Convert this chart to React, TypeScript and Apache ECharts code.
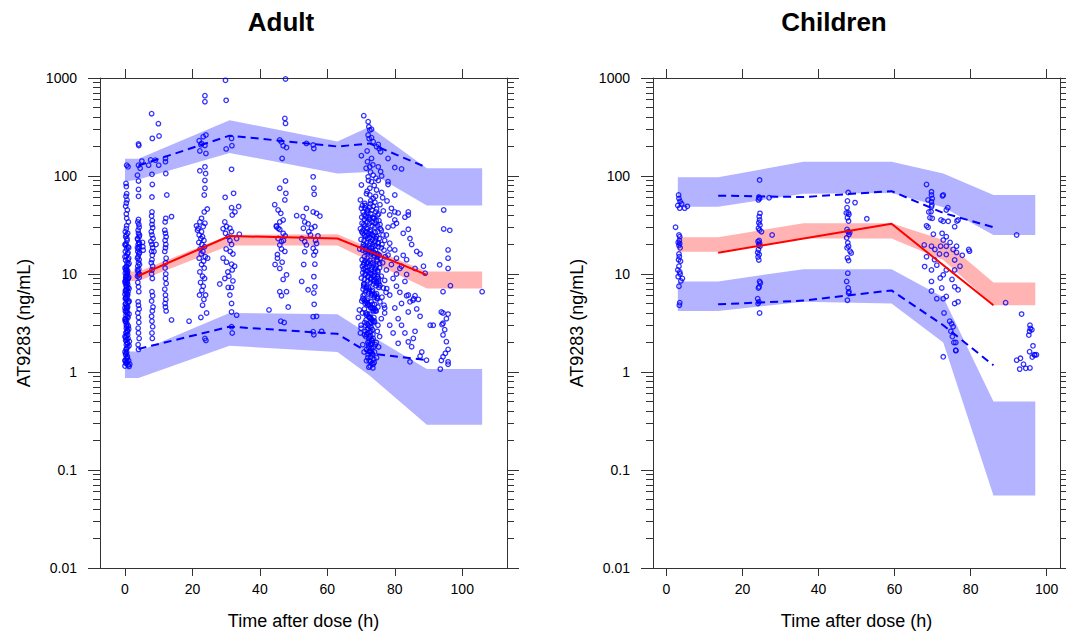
import React, { useEffect, useRef } from 'react';
import * as echarts from 'echarts';

// ---------- tick labels ----------
const xTickValues = [0, 20, 40, 60, 80, 100];
const yMajorTicks = [0.01, 0.1, 1, 10, 100, 1000];
const yTickLabels = ['0.01', '0.1', '1', '10', '100', '1000'];
const yMinorTicks = [
  0.02, 0.03, 0.04, 0.05, 0.06, 0.07, 0.08, 0.09,
  0.2, 0.3, 0.4, 0.5, 0.6, 0.7, 0.8, 0.9,
  2, 3, 4, 5, 6, 7, 8, 9,
  20, 30, 40, 50, 60, 70, 80, 90,
  200, 300, 400, 500, 600, 700, 800, 900,
];
const panelTitles = ['Adult', 'Children'];
const xAxisTitle = 'Time after dose (h)';
const yAxisTitle = 'AT9283 (ng/mL)';

// ---------- Adult prediction intervals ----------
const adultBandT = [0, 4, 31, 63, 72.5, 89.5, 105.9];
const adultUpperHi = [150, 150, 370, 225, 318, 120, 120];
const adultUpperLo = [88, 92, 172, 106, 110, 50, 50];
const adultMedHi = [10.6, 10.6, 25, 25.4, 18.5, 10.6, 10.6];
const adultMedLo = [8.5, 8.5, 19.5, 19.5, 13.6, 7.1, 7.1];
const adultLowHi = [1.62, 1.62, 4.0, 3.88, 2.4, 1.07, 1.07];
const adultLowLo = [0.87, 0.87, 1.85, 1.6, 0.92, 0.29, 0.29];

// Adult observed percentiles
const adultLineT = [4, 31, 63, 72.5, 89.5];
const adultMedian = [9.6, 24.4, 23, 17, 9.8];
const adultP95 = [128, 258, 200, 215, 122];
const adultP5 = [1.72, 2.9, 2.45, 1.55, 1.32];

// ---------- Children prediction intervals ----------
const childBandT = [3, 13.6, 36, 59.2, 72.8, 86, 97];
const childUpperHi = [97, 97, 140, 140, 106, 64, 64];
const childUpperLo = [48.6, 48.6, 66, 67, 48, 25, 25];
const childMedHi = [23.7, 23.7, 33, 33, 22.2, 8.2, 8.2];
const childMedLo = [16.9, 16.9, 23, 23, 13.9, 4.8, 4.8];
const childLowHi = [8.4, 8.4, 11.2, 11.2, 5.8, 0.5, 0.5];
const childLowLo = [4.2, 4.2, 5.2, 5.0, 2.0, 0.055, 0.055];

// Children observed percentiles
const childMedianT = [13.6, 59.2, 86];
const childMedian = [16.5, 32.5, 4.8];
const childPctT = [13.6, 36, 59.2, 72.8, 86];
const childP95 = [63, 61, 70, 42, 30];
const childP5 = [4.9, 5.35, 6.8, 3.0, 1.17];

// ---------- Observations ----------
const adultObs: number[][] = [
  // ~0 h
  [0.5,129],[0.9,124],[0.3,84],[0.4,78],[0.5,66],[0.3,62],[0.6,57],[0.4,53],[0.2,49],[0.7,45],[0.4,41],[0.5,37],[1.0,34],[0.5,31],[0.1,27],
  [0.4,29],[0.8,26],[0.2,24],[0.6,22],[0.3,20.5],[0.9,19],[0.5,18],[0.1,17],[0.7,16],[0.4,15.2],[1.1,14.5],[0.2,13.8],[0.6,13],[0.9,12.4],[0.3,11.8],
  [0.5,11.2],[0.8,10.7],[0.1,10.2],[0.6,9.8],[0.4,9.4],[1.0,9.0],[0.2,8.6],[0.7,8.3],[0.5,8.0],[0.3,7.6],[0.9,7.3],[0.6,7.0],[0.1,6.7],[0.4,6.4],[0.8,6.1],
  [0.3,5.8],[0.6,5.5],[1.2,5.3],[0.2,5.0],[0.5,4.8],[0.8,4.6],[0.4,4.4],[0.1,4.2],[0.7,4.0],[0.3,3.8],[0.9,3.6],[0.5,3.4],[0.2,3.25],[0.6,3.1],[1.0,2.95],
  [0.4,2.8],[0.7,2.65],[0.3,2.5],[0.5,2.35],[0.9,2.2],[0.2,2.1],[0.6,2.0],[0.4,1.9],[0.8,1.8],[0.3,1.7],[0.5,1.6],[0.2,1.5],[0.7,1.45],[0.4,1.38],[0.1,1.32],
  [0.6,1.27],[0.3,1.22],[0.9,1.18],[1.2,1.14],[0.5,12],[0.2,9.2],[0.8,7.8],[0.3,6.9],[0.6,5.9],[0.1,4.9],[0.9,14],[0.6,4.2],[0.2,3.5],[0.8,2.6],[0.5,2.15],
  [0.0,1.3],[0.4,1.25],[1.4,1.2],[0.7,10.2],[0.3,8.8],[0.9,6.6],[0.1,5.6],[0.6,4.5],[0.4,3.0],[0.8,2.4],
  [0.2,11],[0.6,10.4],[0.4,9.6],[0.8,8.9],[0.1,8.1],[0.5,7.4],[0.3,6.8],[0.7,6.3],[0.2,5.7],[0.9,5.1],[0.5,4.6],[0.3,4.1],[0.7,3.7],[0.1,3.3],[0.6,2.9],
  [0.4,2.55],[0.2,2.25],[0.8,1.95],[0.5,1.75],[0.3,1.55],[0.7,1.4],[0.9,16.5],[0.2,19.5],[0.6,23],[0.4,25],
  [0.0,20],[1.1,18.5],[0.0,15],[1.2,12.8],[0.0,11.5],[1.1,9.3],[0.0,8.4],[1.2,7.1],[0.0,6.2],[1.1,5.2],[0.0,4.5],[1.2,3.9],[0.0,3.45],[1.1,2.75],[0.0,2.3],
  [1.2,1.85],[0.0,1.6],[1.1,1.3],[0.0,1.15],[1.3,2.05],
  // ~4 h
  [4.0,212],[4.1,205],[4.0,129],[3.7,102],[4.0,89],[4.0,73],[4.0,62],[4.0,36],[4.1,32],[3.8,34],[4.2,30],[3.9,28],[4.0,26],[4.2,24],[3.8,22.5],
  [4.1,21],[3.9,20],[4.2,19],[4.0,18],[3.8,17],[4.1,16],[3.9,15],[4.2,14],[4.0,13],[3.8,12],[4.1,11.2],[3.9,10.5],[4.0,9.8],[4.2,9.2],[3.8,8.2],
  [4.0,7.4],[4.1,6.6],[3.9,5.2],[4.0,4.8],[4.2,4.4],[3.8,4.0],[4.0,3.6],[4.1,3.2],[3.9,2.8],[4.0,2.5],[4.2,2.2],[3.9,1.9],[4.0,1.7],[5.0,142],[4.5,120],
  [5.2,21],[5.3,19],[5.4,17.5],[4.3,25],[3.7,23],[4.3,20.5],[3.7,18.5],[4.3,16.5],[3.7,14.5],[4.3,12.5],[3.7,11],[4.3,10],[3.7,9.5],
  // ~8 h
  [7.9,432],[8.1,242],[7.0,129],[7.6,146],[8.0,104],[8.1,82],[8.0,61],[8.0,43],[7.9,39],[8.1,35],[8.0,32],[8.2,29.7],[7.8,27],[8.0,25],[8.3,23],
  [7.7,21.5],[8.0,20],[8.2,18.5],[7.9,17],[8.1,15.5],[8.0,14],[7.8,13],[8.2,12],[8.0,11],[7.9,10],[8.1,9],[8.0,6.6],[8.2,6.0],[7.9,5.3],[8.3,4.6],
  [8.1,4.2],[7.9,3.7],[8.0,3.3],[8.2,2.9],[8.0,2.5],[8.1,2.2],[9.0,145],[9.2,20],[8.6,17],
  // ~12 h
  [9.9,342],[10.1,256],[10.0,129],[12.0,151],[12.1,106],[12.0,140],[12.4,64],[11.9,34],[12.1,37],[11.8,28],[12.0,26],[12.2,24],[11.9,22],[12.1,20],[12.0,18.5],
  [11.8,17],[12.2,14.5],[12.0,13],[11.9,11.5],[12.1,10],[12.0,9],[12.2,8],[11.8,7],[12.0,6.1],[12.1,5.5],[11.9,5.0],[12.0,4.6],[12.2,4.2],[13.8,38.5],[13.8,3.4],
  [19.0,3.3],
  // ~23 h
  [23.7,660],[23.7,573],[23.2,252],[24.0,262],[22.0,229],[22.7,215],[22.5,208],[23.7,205],[22.2,180],[24.0,170],[23.7,124],[22.2,113],[23.9,106],[23.7,90],[23.7,75],
  [23.5,64],[24.4,46],[23.5,43],[22.7,37],[22.2,34],[23.7,33],[23.2,30.5],[21.7,29.3],[21.2,31],[21.5,28],[22.7,27],[22.0,25],[23.0,24],[22.5,23],[23.4,22],
  [21.9,21],[22.8,20],[23.6,19],[22.3,18],[23.1,17],[22.6,16],[23.8,15],[22.0,14.5],[23.3,13.5],[22.7,12.5],[23.5,11.5],[22.2,10.5],[23.0,9.5],[23.6,9.0],[22.4,8.2],
  [23.2,7.5],[22.8,6.8],[23.9,6.1],[22.1,6.1],[23.4,5.5],[24.2,4.0],[23.0,4.8],[23.7,2.2],[24.0,2.1],[24.5,14.5],[22.5,3.6],
  // ~31 h
  [29.8,946],[30.0,592],[31.6,242],[31.7,204],[30.0,189],[31.6,117],[32.2,66.5],[29.7,60.6],[31.6,47.5],[33.7,48.8],[32.6,43],[31.8,40],[29.6,34],[30.1,30.5],[31.1,29.3],
  [31.6,27],[29.1,29],[29.8,26],[30.6,24],[31.1,22],[33.1,23],[33.9,25.5],[31.6,20],[30.0,18],[31.2,17],[32.0,16],[29.1,14.5],[30.1,13.2],[31.6,12.6],[32.5,12],
  [29.6,9],[30.5,10.5],[31.8,11],[28.1,7.9],[30.6,7.3],[31.6,7.3],[31.1,6.1],[31.6,5.0],[31.6,4.1],[33.1,3.8],[31.6,2.9],[31.8,2.5],[32.0,8.5],[30.8,9.5],
  // ~47 h
  [47.6,977],[47.4,387],[47.6,344],[45.9,233],[46.4,222],[46.9,204],[47.9,195],[46.6,151],[47.6,89],[45.9,75],[47.7,66.5],[47.4,57],[44.4,51],[45.4,45],[46.2,41.6],
  [46.9,35.6],[45.9,34],[44.9,30.4],[45.4,29.3],[44.9,31],[45.9,28.5],[46.9,26],[47.5,24.5],[45.4,23],[46.4,21.5],[45.9,19.8],[46.4,18],[47.4,17],[45.2,15.8],[45.2,14.5],
  [46.6,13.2],[45.9,11.4],[47.9,9.8],[46.9,8.8],[47.9,6.6],[45.9,6.6],[46.4,6.0],[48.4,4.6],[42.7,4.3],[46.2,3.3],[47.2,3.2],[44.5,12.5],[47.0,22],
  // ~55 h
  [53.8,215],[55.8,207],[56.0,191],[55.8,98],[56.0,75],[56.1,65],[53.8,46.8],[50.9,39.4],[52.8,38.5],[55.8,43],[56.8,41.6],[57.8,39],[53.3,34],[54.3,32.5],[55.3,29.3],
  [56.3,30.5],[52.9,29.3],[53.3,21.4],[52.4,23],[53.8,19.8],[55.8,18.3],[53.3,16.9],[56.0,15.6],[56.3,12.6],[56.0,9.4],[52.4,8.4],[56.3,7.4],[54.3,6.9],[56.0,6.4],[56.1,4.9],
  [55.8,3.67],[56.8,3.7],[55.8,2.58],[58.3,2.6],[56.0,2.4],[55.0,25],[56.5,22],[54.5,27],[53.0,12.5],[56.8,20.5],[57.2,24.5],[56.5,17],
  // ~72 h (dense)
  [70.8,413],[72.1,358],[72.3,318],[72.6,294],[73.1,300],[72.1,262],[73.1,246],[72.4,240],[73.6,224],[74.6,199],[75.4,190],[75.8,177],[75.1,210],[70.1,161],[71.8,180],
  [73.1,151],[71.9,140],[72.6,124],[75.1,124],[75.8,111],[78.0,151],[73.6,102],[72.1,98],[74.4,95],[76.1,100],[73.1,87.5],[75.1,90],[78.0,87.5],[78.0,82],[70.1,81],
  [72.6,75],[74.6,72],[76.1,68],[72.6,64],[71.6,66],[73.6,59],[76.4,60],[80.0,122],[82.0,118],[80.0,64],[69.8,57],[71.1,52.6],[74.1,54],[75.6,51],[77.7,55.6],
  [70.1,46.8],[72.6,48],[74.6,46],[76.6,44],[79.0,46.8],[80.0,43],[78.5,40],[84.0,43],[84.0,40],[80.0,35.6],[80.5,32.9],[84.0,28.6],
  [70.2,38],[71.0,36],[71.8,34],[72.5,33],[73.3,31],[74.1,30],[69.8,29],[70.6,28],[71.4,27],[72.2,26],[73.0,25.5],[73.8,24.5],[74.6,24],[75.4,23],[70.0,22.5],
  [70.9,22],[71.7,21],[72.6,20.5],[73.4,20],[74.2,19.5],[75.1,19],[76.0,18.5],[69.6,18],[70.5,17.5],[71.3,17],[72.1,16.5],[73.0,16],[73.9,15.5],[74.8,15],[75.7,14.5],
  [70.3,14],[71.2,13.6],[72.0,13.2],[72.9,12.8],[73.7,12.4],[74.5,12],[75.5,11.6],[70.7,11.2],[71.5,10.8],[72.4,10.4],[73.2,10],[74.0,9.7],[74.9,9.4],[70.1,9.1],[71.0,8.8],
  [71.9,8.5],[72.7,8.2],[73.6,7.9],[74.4,7.6],[75.3,7.3],[70.6,7.0],[71.4,6.7],[72.3,6.4],[73.1,6.1],[73.9,5.8],[74.8,5.6],[70.2,5.3],[71.2,5.0],[72.0,4.8],[72.8,4.6],
  [73.6,4.4],[74.5,4.2],[70.4,4.0],[71.6,3.8],[72.4,3.6],[73.3,3.4],[71.1,3.2],[72.2,3.0],[73.0,2.85],[71.8,2.7],[72.6,2.55],[73.5,2.4],[71.4,2.3],[72.3,2.2],[73.1,2.1],
  [72.0,2.0],[72.8,1.9],[73.7,1.8],[71.6,1.7],[72.5,1.6],[73.3,1.55],[72.1,1.5],[72.9,1.42],[73.8,1.35],[72.4,1.3],[73.2,1.22],[72.7,1.15],[73.5,1.1],
  [70.5,26],[71.3,24],[72.0,23],[72.8,21.5],[73.5,19],[74.3,17.5],[75.0,16],[71.0,15],[71.8,14.5],[72.6,13.8],[73.4,13],[74.2,11.5],[75.0,10.5],[71.2,10],[72.0,9.3],
  [72.9,8.8],[73.8,8.4],[74.7,8],[75.6,7.6],[71.0,6.2],[72.0,5.6],[73.0,5.2],[74.0,4.9],[75.0,4.6],[76.0,28],[76.5,25],[77.0,22],[76.2,20],[76.8,17.5],[77.2,15],
  [76.4,13],[77.5,11],[76.0,9.5],[77.0,8.6],[76.6,7.2],[77.4,6.5],[76.2,5.8],[75.6,5.2],[76.8,4.8],[77.0,4.0],[74.0,3.3],[75.0,3.0],[76.0,3.5],[74.8,2.6],[75.5,2.3],
  [74.5,2.0],[75.2,1.8],[74.0,1.6],[74.6,1.4],[73.9,1.25],[70.0,3.0],[69.8,2.5],[70.5,1.9],[71.0,2.4],[73.4,38],[74.5,35],[75.6,32],[75.0,27],[74.2,26.5],[70.8,32],
  [71.5,29.5],[72.8,28],[69.5,4.3],[69.2,3.6],[70.0,2.8],[71.7,44],[72.9,41],[73.9,37],[71.2,19.5],[72.4,18],[73.6,17],[74.8,13.5],[70.8,12.5],[71.8,11.8],[73.0,11],
  [74.1,10.5],[75.2,9.0],[70.9,8.0],[72.2,7.3],[73.4,6.8],[74.6,6.3],[70.6,6.0],[71.7,5.4],[73.4,4.9],[74.1,4.4],[71.0,4.4],[72.6,3.9],[73.8,3.6],[71.5,3.4],[72.9,3.2],
  [70.3,33],[71.1,31],[71.9,29],[72.7,27],[73.5,25],[74.3,23],[75.1,21],[70.7,20],[71.5,18.5],[72.3,17.5],[73.1,16.5],[73.9,15],[74.7,14],[75.5,12.8],[70.4,12],
  [71.2,11.5],[72.0,10.8],[72.8,10.2],[73.6,9.5],[74.4,9.0],[75.2,8.4],[70.8,7.8],[71.6,7.4],[72.4,7.0],[73.2,6.6],[74.0,6.2],[74.8,5.9],[70.5,5.6],[71.3,5.2],[72.1,4.9],
  [72.9,4.5],[73.7,4.2],[71.9,3.9],[72.7,3.6],[73.5,3.3],[71.3,3.0],[72.1,2.8],[72.9,2.6],[71.7,2.4],[72.5,2.3],[73.3,2.1],[72.2,1.9],[73.0,1.75],[72.6,1.65],[73.4,1.5],
  [72.0,1.4],[72.8,1.28],[73.6,1.2],[72.3,1.12],[71.5,120],[72.8,110],[73.5,130],[72.2,90],[73.9,80],[71.8,70],[74.3,62],[72.9,56],[71.3,50],[73.2,45],[74.9,40],
  [72.0,42],[73.7,37],[75.3,35],[72.4,38],[71.4,39],[70.6,43],
  [70.4,50],[71.2,47],[72.0,45],[72.8,52],[73.6,49],[74.4,43],[75.2,41],[70.9,40],[71.7,37.5],[72.5,36],[73.3,34],[74.1,33],[74.9,31],[75.7,29],[70.2,27],
  [71.0,25],[71.8,24.5],[72.6,23.5],[73.4,22.5],[74.2,21.5],[75.0,20.5],[70.6,19],[71.4,18],[72.2,17],[73.0,18.5],[73.8,16.5],[74.6,16],[75.4,15.5],[70.9,13],[71.7,12.8],
  [72.5,12.2],[73.3,11.7],[74.1,11.2],[74.9,10.8],[70.5,10.3],[71.3,9.8],[72.1,9.5],[72.9,9.1],[73.7,8.7],[74.5,8.3],[75.3,7.9],[70.8,7.5],[71.6,7.1],[72.4,6.7],[73.2,6.3],
  [74.0,6.0],[74.8,5.7],[71.0,5.4],[71.8,5.1],[72.6,4.8],[73.4,4.5],[74.2,4.2],[71.4,4.0],[72.2,3.7],[73.0,3.5],[73.8,3.2],[71.8,3.1],[72.6,2.9],[73.4,2.7],[72.0,2.5],
  [72.8,2.35],[73.6,2.2],[72.4,2.05],[73.2,1.95],[73.0,1.6],[72.2,1.78],[71.6,1.3],[70.9,1.6],[74.2,1.9],[71.2,2.6],
  // ~78-90 h
  [77.5,25],[78.5,20.6],[80.0,17.6],[81.5,11.4],[83.0,8.4],[84.0,6.1],[84.5,5.2],[84.0,4.1],[78.5,3.0],[79.5,2.5],[81.0,1.96],[84.0,2.03],[85.0,1.81],[84.5,1.27],[89.4,1.32],
  [91.4,3.0],[85.4,5.4],[83.5,6.0],[85.6,5.6],[80.5,14.5],[82.5,15.5],[83.5,9.9],[86.0,11.4],[89.0,10.2],[78.5,18],[78.0,15.6],[77.6,7.1],[78.5,6.1],[77.0,4.5],[79.5,9],
  [80.5,7.5],[81.5,6.5],[82.0,5.0],[80.0,4.5],[81.0,3.5],[82.0,3.0],[83.0,2.5],[79.0,12.5],[80.5,10],[82.0,12],[83.5,14],[85.0,20],[84.5,23],[86.5,17],[87.5,16],
  [88.5,12],[86.0,6.0],[87.0,5.5],[86.5,4.4],[87.5,3.7],[86.0,2.6],[85.5,2.2],[88.0,1.6],[87.5,1.45],[83.0,38],[81.0,42],[79.5,31],[82.5,26],[78.0,30],
  // ~95 h
  [94.5,45],[94.5,28.8],[96.3,27.9],[93.3,12.4],[95.8,11.4],[95.8,17.6],[95.8,14.5],[96.5,7.6],[94.3,6.6],[93.8,4.1],[94.3,4.0],[95.8,3.9],[95.3,3.5],[94.3,3.14],[94.0,3.05],
  [94.3,2.39],[95.3,2.04],[95.8,1.7],[94.3,1.43],[93.8,1.31],[95.8,1.27],[95.8,1.2],[93.5,1.07],[94.8,2.7],[95.0,1.55],[105.9,6.6],[90.5,3.0],
];

const childObs: number[][] = [
  // ~3 h
  [3.2,64],[3.3,59],[3.6,55],[3.0,50],[4.0,52],[4.8,47],[3.5,47],[5.5,49],[2.4,30],[3.3,25],[3.5,24],[3.4,22],[3.1,21],[3.3,19.5],[3.6,18.5],
  [3.4,15],[3.2,14],[3.7,13.5],[3.3,12],[3.0,11],[3.5,10.5],[3.6,10],[3.1,9.4],[4.2,9],[3.8,8.5],[3.3,7.5],[3.5,5.1],[3.4,4.8],[3.3,16],[3.5,20.5],
  // ~24 h
  [24.5,91],[24.3,61],[24.5,59],[24.2,57],[27.0,60],[24.6,41.6],[24.4,38.5],[24.5,35.6],[24.3,33.4],[24.6,31.6],[24.2,29.3],[24.5,28.1],[25.0,27],[27.8,25],[24.4,22],
  [24.1,21.4],[24.5,20.6],[24.3,19.8],[24.6,19.2],[24.2,17.8],[24.0,16.6],[24.4,15.8],[24.1,14.9],[24.3,13.9],[24.5,8.4],[24.7,8.1],[24.4,7.4],[24.2,7.2],[24.0,5.6],[24.3,5.2],
  [24.1,5.0],[24.5,4.0],
  // ~48 h
  [47.8,67.8],[47.6,55.7],[49.6,53.5],[47.5,47.5],[47.8,42.2],[48.0,40.6],[47.6,37.5],[47.9,34.7],[52.7,36.6],[47.5,28.5],[47.8,27],[48.0,25.3],[47.4,23.4],[47.7,20.8],[47.9,19.2],
  [47.5,18.5],[48.3,17.1],[48.6,16.4],[47.6,14.6],[47.9,13.7],[47.7,10.2],[47.4,8.4],[47.8,7.2],[48.0,6.6],[47.9,6.4],[47.6,5.4],[48.2,26.5],[47.3,42],
  // ~72 h
  [68.4,82],[69.7,69],[69.7,64],[69.9,59],[69.7,54.7],[69.8,50.6],[69.7,48.6],[69.6,43.3],[69.9,37],[68.8,57],[69.0,43],[69.3,37.5],[72.8,64],[72.6,62.7],[73.6,45],
  [74.0,47.5],[72.2,35.6],[72.8,34.5],[74.1,34.5],[76.7,35.6],[75.8,30.4],[76.4,34.7],[68.4,31],[68.8,30],[72.5,26],[73.6,24],[72.8,22.2],[67.8,19.8],[69.7,19.2],[70.6,17.8],
  [72.1,19.2],[73.6,19.2],[76.3,19.2],[75.4,17.8],[79.5,17.8],[79.7,17.1],[76.3,16.6],[73.6,15.8],[68.4,15],[75.8,13.9],[67.9,11.9],[71.1,12.3],[69.7,11],[73.6,11],[75.8,11],
  [72.8,9.8],[72.0,9.1],[75.1,8.8],[69.7,8.4],[75.8,7.4],[72.4,7.2],[76.7,6.9],[69.7,6.7],[71.1,5.6],[72.8,5.6],[73.6,5.9],[75.8,5.0],[76.7,5.2],[73.0,4.0],[75.0,3.1],
  [75.4,2.9],[74.8,2.6],[75.2,2.3],[75.6,2.0],[76.1,1.67],[72.8,1.43],[76.1,2.0],[76.1,1.65],[74.5,3.3],[70.5,14],[71.8,16],[74.6,21],[77.2,12],[77.8,15.5],[70.2,25.5],
  // ~90-97 h
  [89.2,5.1],[92.1,25],[93.4,3.9],[95.6,3.0],[95.5,2.6],[96.4,1.85],[96.9,1.49],[92.1,1.32],[92.9,1.07],[93.1,1.38],[93.9,1.2],[94.5,1.09],[95.6,1.1],[95.5,1.61],[95.7,2.78],
  [96.1,2.7],[95.3,2.38],[96.7,1.5],[97.3,1.5],[96.2,1.42],
];

// ---------- styling constants ----------
const FONT = '"Liberation Sans", Arial, Helvetica, sans-serif';
const AXIS_COLOR = '#333';
const BLUE = '#0000FF';
const RED = '#FF0000';
const BLUE_FILL = '#B3B3FF';
const RED_FILL = '#FFB3B3';

const panels = [
  { left: 100, top: 78, width: 407, height: 490, xMin: -7.41, xMax: 113.27, title: panelTitles[0], titleX: 281,
    bandT: adultBandT,
    bands: [
      { hi: adultUpperHi, lo: adultUpperLo, color: BLUE_FILL },
      { hi: adultLowHi, lo: adultLowLo, color: BLUE_FILL },
      { hi: adultMedHi, lo: adultMedLo, color: RED_FILL },
    ],
    obs: adultObs,
    median: { t: adultLineT, v: adultMedian },
    p95: { t: adultLineT, v: adultP95 },
    p5: { t: adultLineT, v: adultP5 },
  },
  { left: 653, top: 78, width: 407, height: 490, xMin: -3.53, xMax: 103.5, title: panelTitles[1], titleX: 834,
    bandT: childBandT,
    bands: [
      { hi: childUpperHi, lo: childUpperLo, color: BLUE_FILL },
      { hi: childLowHi, lo: childLowLo, color: BLUE_FILL },
      { hi: childMedHi, lo: childMedLo, color: RED_FILL },
    ],
    obs: childObs,
    median: { t: childMedianT, v: childMedian },
    p95: { t: childPctT, v: childP95 },
    p5: { t: childPctT, v: childP5 },
  },
];

function zip(t: number[], v: number[]) {
  return t.map((tt, i) => [tt, v[i]]);
}

function buildOption() {
  const grid: any[] = [];
  const xAxis: any[] = [];
  const yAxis: any[] = [];
  const series: any[] = [];
  const graphic: any[] = [];

  panels.forEach((p, gi) => {
    grid.push({ left: p.left, top: p.top, width: p.width, height: p.height, containLabel: false });
    const lineStyle = { color: AXIS_COLOR, width: 1 };
    // bottom x
    xAxis.push({
      type: 'value', gridIndex: gi, position: 'bottom', min: p.xMin, max: p.xMax,
      name: xAxisTitle, nameLocation: 'middle', nameGap: 44,
      nameTextStyle: { fontSize: 18, fontFamily: FONT, color: '#000' },
      axisLine: { show: true, onZero: false, lineStyle },
      axisTick: { show: true, inside: false, length: 8, customValues: xTickValues, lineStyle },
      axisLabel: { show: true, customValues: xTickValues, margin: 14, fontSize: 14, fontFamily: FONT, color: '#000' },
      splitLine: { show: false },
    });
    // top x
    xAxis.push({
      type: 'value', gridIndex: gi, position: 'top', min: p.xMin, max: p.xMax,
      axisLine: { show: true, onZero: false, lineStyle },
      axisTick: { show: true, inside: false, length: 9, customValues: xTickValues, lineStyle },
      axisLabel: { show: false },
      splitLine: { show: false },
    });
    const yBase = { type: 'log', logBase: 10, gridIndex: gi, min: 0.01, max: 1000, splitLine: { show: false } };
    // left major
    yAxis.push({
      ...yBase, position: 'left',
      name: yAxisTitle, nameLocation: 'middle', nameGap: 67, nameRotate: 90,
      nameTextStyle: { fontSize: 18, fontFamily: FONT, color: '#000' },
      axisLine: { show: true, onZero: false, lineStyle },
      axisTick: { show: true, length: 12, customValues: yMajorTicks, lineStyle },
      axisLabel: {
        show: true, customValues: yMajorTicks, margin: 23, fontSize: 14, fontFamily: FONT, color: '#000',
        formatter: (v: number) => yTickLabels[Math.round(Math.log10(v)) + 2],
      },
    });
    // left minor
    yAxis.push({
      ...yBase, position: 'left',
      axisLine: { show: false, onZero: false },
      axisTick: { show: true, length: 7, customValues: yMinorTicks, lineStyle },
      axisLabel: { show: false },
    });
    // right major
    yAxis.push({
      ...yBase, position: 'right',
      axisLine: { show: true, onZero: false, lineStyle },
      axisTick: { show: true, length: 12, customValues: yMajorTicks, lineStyle },
      axisLabel: { show: false },
    });
    // right minor
    yAxis.push({
      ...yBase, position: 'right',
      axisLine: { show: false, onZero: false },
      axisTick: { show: true, length: 7, customValues: yMinorTicks, lineStyle },
      axisLabel: { show: false },
    });

    const xi = gi * 2;
    const yi = gi * 4;
    const bands = p.bands;
    const bandT = p.bandT;
    series.push({
      type: 'custom', xAxisIndex: xi, yAxisIndex: yi, silent: true, z: 1, clip: true,
      data: bands.map((b, i) => [bandT[0], b.hi[0], i]),
      encode: { x: 0, y: 1 },
      renderItem: (params: any, api: any) => {
        const b = bands[params.dataIndex];
        const pts: number[][] = [];
        for (let k = 0; k < bandT.length; k++) pts.push(api.coord([bandT[k], b.hi[k]]));
        for (let k = bandT.length - 1; k >= 0; k--) pts.push(api.coord([bandT[k], b.lo[k]]));
        return { type: 'polygon', shape: { points: pts }, style: { fill: b.color, stroke: null } };
      },
    });
    series.push({
      type: 'scatter', xAxisIndex: xi, yAxisIndex: yi, z: 2, silent: true,
      symbol: 'circle', symbolSize: 4.5,
      itemStyle: { color: 'rgba(0,0,0,0)', borderColor: BLUE, borderWidth: 1.3 },
      data: p.obs,
    });
    series.push({
      type: 'line', xAxisIndex: xi, yAxisIndex: yi, z: 3, silent: true, symbol: 'none',
      lineStyle: { color: RED, width: 2 },
      data: zip(p.median.t, p.median.v),
    });
    series.push({
      type: 'line', xAxisIndex: xi, yAxisIndex: yi, z: 3, silent: true, symbol: 'none',
      lineStyle: { color: BLUE, width: 2, type: [8, 5] },
      data: zip(p.p95.t, p.p95.v),
    });
    series.push({
      type: 'line', xAxisIndex: xi, yAxisIndex: yi, z: 3, silent: true, symbol: 'none',
      lineStyle: { color: BLUE, width: 2, type: [8, 5] },
      data: zip(p.p5.t, p.p5.v),
    });

    graphic.push({
      type: 'text', x: p.titleX, y: 22,
      style: {
        text: p.title, fill: '#000', font: `bold 26px ${FONT}`,
        textAlign: 'center', textVerticalAlign: 'middle',
      },
    });
  });

  return { animation: false, backgroundColor: '#fff', grid, xAxis, yAxis, series, graphic };
}

export default function App() {
  const ref = useRef<HTMLDivElement>(null);
  useEffect(() => {
    if (!ref.current) return;
    const chart = echarts.init(ref.current, undefined, { renderer: 'svg' });
    chart.setOption(buildOption() as any);
    return () => chart.dispose();
  }, []);
  return (
    <div
      ref={ref}
      style={{ position: 'fixed', left: 0, top: 0, width: 1066, height: 636, background: '#fff' }}
    />
  );
}
